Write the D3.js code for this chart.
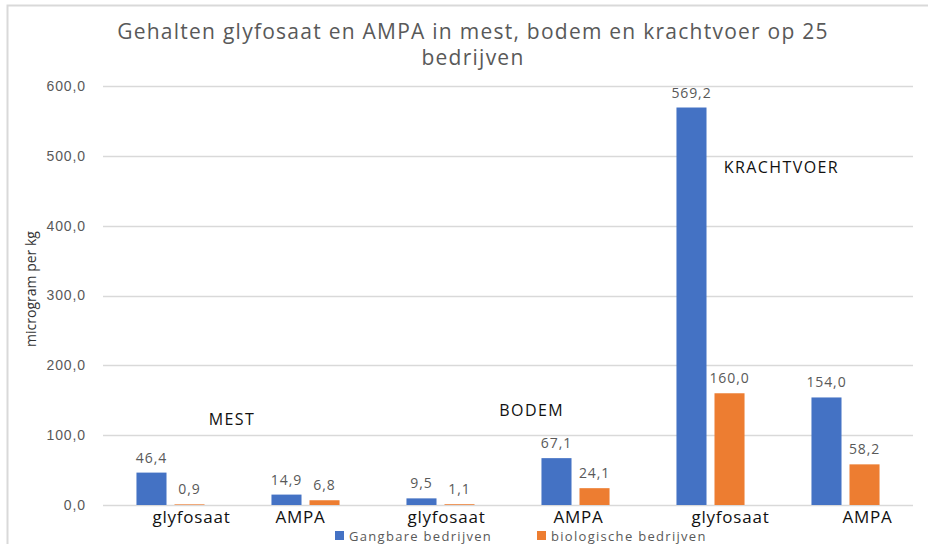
<!doctype html>
<html>
<head>
  <title>Gehalten glyfosaat en AMPA</title>
  <style>
    body { margin: 0; background: #fff; }
    svg { display: block; font-family: "Open Sans", sans-serif; }
  </style>
</head>
<body>
  <svg></svg>
  <script src="https://cdnjs.cloudflare.com/ajax/libs/d3/7.8.5/d3.min.js"></script>
  <script>
  // chart values
  var categories = ["glyfosaat", "AMPA", "glyfosaat", "AMPA", "glyfosaat", "AMPA"];
  var series = ["Gangbare bedrijven", "biologische bedrijven"];
  var gangbaar = [46.4, 14.9, 9.5, 67.1, 569.2, 154.0];
  var biologisch = [0.9, 6.8, 1.1, 24.1, 160.0, 58.2];
  var yTicks = [0, 100, 200, 300, 400, 500, 600];
  var groupNames = ["MEST", "BODEM", "KRACHTVOER"];

  var colors = ["#4472C4", "#ED7D31"];

  var width = 928, height = 544;
  var margin = { top: 86, right: 15, bottom: 39, left: 103 };

  var svg = d3.select("svg")
    .attr("width", width)
    .attr("height", height);

  // frame
  svg.append("path")
    .attr("d", "M7.5," + height + "V5.5H" + width)
    .attr("fill", "none")
    .attr("stroke", "#d9d9d9")
    .attr("stroke-width", 2);

  var nl = d3.formatLocale({ decimal: ",", thousands: ".", grouping: [3], currency: ["", ""] });
  var fmt = nl.format(".1f");

  var x0 = d3.scaleBand()
    .domain(d3.range(categories.length))
    .range([margin.left, width - margin.right]);

  var x1 = d3.scaleBand()
    .domain(series)
    .range([0, x0.bandwidth()])
    .paddingInner(0.21)
    .paddingOuter(0.88);

  var y = d3.scaleLinear()
    .domain([0, 600])
    .range([height - margin.bottom, margin.top]);

  // gridlines
  svg.append("g")
    .selectAll("line")
    .data(yTicks)
    .enter().append("line")
    .attr("x1", margin.left)
    .attr("x2", width - margin.right)
    .attr("y1", function(d) { return Math.round(y(d)) + 0.5; })
    .attr("y2", function(d) { return Math.round(y(d)) + 0.5; })
    .attr("stroke", "#d9d9d9")
    .attr("stroke-width", 1.5);

  var yAxis = svg.append("g")
    .attr("transform", "translate(" + (margin.left - 3) + ",0)")
    .call(d3.axisLeft(y).tickValues(yTicks).tickFormat(fmt).tickSize(0).tickPadding(14));
  yAxis.select(".domain").remove();
  yAxis.selectAll("text")
    .attr("fill", "#595959")
    .style("font-size", "14px")
    .style("letter-spacing", "0.9px");

  svg.append("text")
    .attr("transform", "translate(36,289) rotate(-90)")
    .attr("text-anchor", "middle")
    .attr("fill", "#333")
    .style("font-size", "14px")
    .text("microgram per kg");

  // bars
  var rows = categories.map(function(c, i) {
    return [
      { s: series[0], v: gangbaar[i], c: colors[0] },
      { s: series[1], v: biologisch[i], c: colors[1] }
    ];
  });

  var groups = svg.append("g")
    .selectAll("g")
    .data(rows)
    .enter().append("g")
    .attr("transform", function(d, i) { return "translate(" + x0(i) + ",0)"; });

  groups.selectAll("rect")
    .data(function(d) { return d; })
    .enter().append("rect")
    .attr("x", function(d) { return x1(d.s); })
    .attr("width", x1.bandwidth())
    .attr("y", function(d) { return y(d.v); })
    .attr("height", function(d) { return y(0) - y(d.v); })
    .attr("fill", function(d) { return d.c; });

  groups.selectAll("text")
    .data(function(d) { return d; })
    .enter().append("text")
    .attr("x", function(d) { return x1(d.s) + x1.bandwidth() / 2; })
    .attr("y", function(d) { return y(d.v) - 10; })
    .attr("text-anchor", "middle")
    .attr("fill", "#595959")
    .style("font-size", "14px")
    .style("letter-spacing", "0.9px")
    .text(function(d) { return fmt(d.v); });

  // category labels (hand placed text boxes in the original)
  var labelNudge = [21, -5, 6, 3, 20, 22];
  svg.append("g")
    .selectAll("text")
    .data(categories)
    .enter().append("text")
    .attr("x", function(d, i) { return x0(i) + x0.bandwidth() / 2 + labelNudge[i]; })
    .attr("y", y(0) + 18)
    .attr("text-anchor", "middle")
    .attr("fill", "#111")
    .style("font-size", "17px")
    .style("letter-spacing", "0.8px")
    .text(function(d) { return d; });

  // group annotations: [position in group steps from the left, value]
  var groupPos = [[1, 122], [3.22, 135], [5.07, 484]];
  svg.append("g")
    .selectAll("text")
    .data(groupNames)
    .enter().append("text")
    .attr("x", function(d, i) { return x0(0) + groupPos[i][0] * x0.step() - 6; })
    .attr("y", function(d, i) { return y(groupPos[i][1]); })
    .attr("dy", "0.35em")
    .attr("text-anchor", "middle")
    .attr("fill", "#111")
    .style("font-size", "16px")
    .style("letter-spacing", "1.4px")
    .text(function(d) { return d; });

  // title
  var title = svg.append("text")
    .attr("text-anchor", "middle")
    .attr("fill", "#595959")
    .style("font-size", "21px")
    .style("letter-spacing", "1.25px");
  title.append("tspan").attr("x", 473).attr("y", 39)
    .text("Gehalten glyfosaat en AMPA in mest, bodem en krachtvoer op 25");
  title.append("tspan").attr("x", 473).attr("y", 65)
    .text("bedrijven");

  // legend
  var legendX = [335, 537];
  var legend = svg.append("g")
    .selectAll("g")
    .data(series)
    .enter().append("g")
    .attr("transform", function(d, i) { return "translate(" + legendX[i] + ",531)"; });
  legend.append("rect")
    .attr("width", 9).attr("height", 9)
    .attr("fill", function(d, i) { return colors[i]; });
  legend.append("text")
    .attr("x", 14).attr("y", 9.5)
    .attr("fill", "#595959")
    .style("font-size", "13px")
    .style("letter-spacing", "1.3px")
    .text(function(d) { return d; });
  </script>
</body>
</html>
